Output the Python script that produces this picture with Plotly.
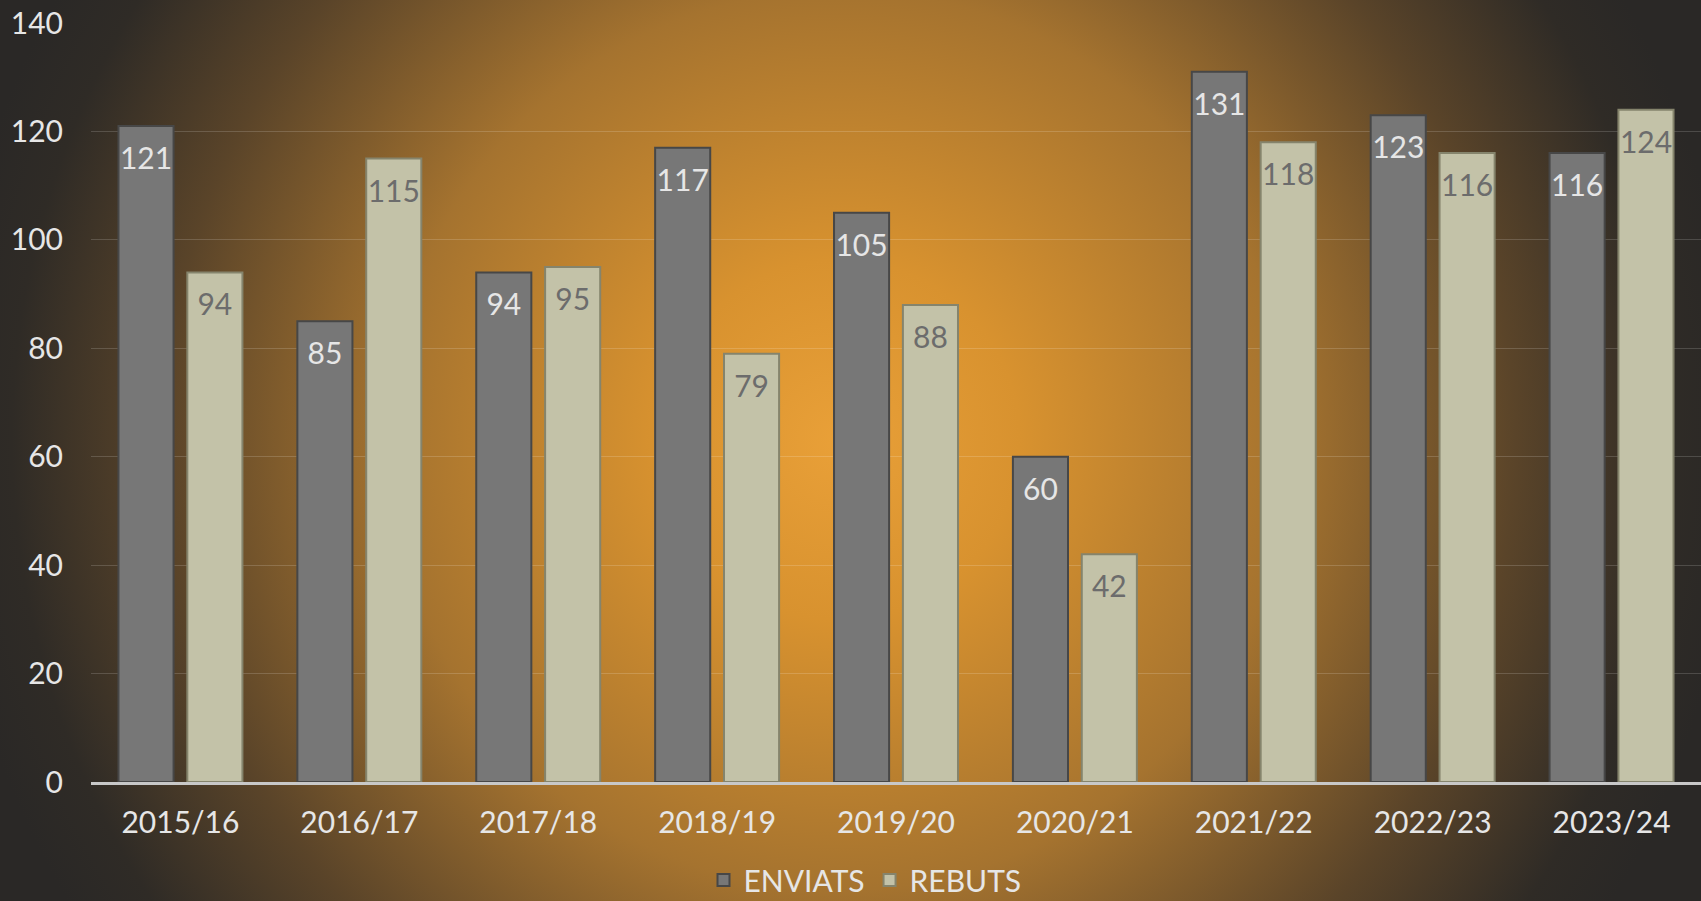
import base64
import plotly.graph_objects as go

categories = ["2015/16", "2016/17", "2017/18", "2018/19", "2019/20",
              "2020/21", "2021/22", "2022/23", "2023/24"]
enviats = [121, 85, 94, 117, 105, 60, 131, 123, 116]
rebuts = [94, 115, 95, 79, 88, 42, 118, 116, 124]
y_ticks = [0, 20, 40, 60, 80, 100, 120, 140]

W, H = 1701, 901
ML, MR, MT, MB = 91, 0, 23, 119
PW, PH = W - ML - MR, H - MT - MB

svg = f'''<svg xmlns="http://www.w3.org/2000/svg" width="{W}" height="{H}" viewBox="0 0 {W} {H}">
<defs><radialGradient id="g" gradientUnits="userSpaceOnUse" cx="840" cy="440" r="900">
<stop offset="0" stop-color="#e9a038"/>
<stop offset="0.2" stop-color="#d8922f"/>
<stop offset="0.5" stop-color="#a5732f"/>
<stop offset="0.75" stop-color="#5a4429"/>
<stop offset="0.92" stop-color="#2f2b26"/>
<stop offset="1" stop-color="#2a2826"/>
</radialGradient></defs>
<rect width="{W}" height="{H}" fill="url(#g)"/></svg>'''
src = "data:image/svg+xml;base64," + base64.b64encode(svg.encode()).decode()

FONT = "Lato"
FS = 30
LABEL_TPL = "<span style='font-size:1px'>\u00a0</span><br>%{y}"

fig = go.Figure()
fig.add_trace(go.Bar(
    name="ENVIATS", x=categories, y=enviats, texttemplate=LABEL_TPL,
    textposition="inside", insidetextanchor="end", constraintext="none",
    textangle=0, hoverinfo="x+y",
    textfont=dict(family=FONT, size=FS, color="#e6e6e6"),
    marker=dict(color="#777777", line=dict(color="#474747", width=2)),
))
fig.add_trace(go.Bar(
    name="REBUTS", x=categories, y=rebuts, texttemplate=LABEL_TPL,
    textposition="inside", insidetextanchor="end", constraintext="none",
    textangle=0, hoverinfo="x+y",
    textfont=dict(family=FONT, size=FS, color="#6c6c6c"),
    marker=dict(color="#c3c2a8", line=dict(color="#85846c", width=2)),
))

fig.update_layout(
    width=W, height=H,
    margin=dict(l=ML, r=MR, t=MT, b=MB, pad=0, autoexpand=False),
    paper_bgcolor="#2a2826", plot_bgcolor="rgba(0,0,0,0)",
    barmode="group", bargap=0.23, bargroupgap=0.2,
    font=dict(family=FONT, size=FS, color="#e6e6e6"),
    showlegend=True,
    legend=dict(orientation="h", xref="container", x=865 / W, xanchor="center",
                yref="container", y=1 - 880 / H, yanchor="middle",
                font=dict(family=FONT, size=FS, color="#e6e6e6"),
                bgcolor="rgba(0,0,0,0)", itemwidth=30),
    images=[dict(source=src, xref="paper", yref="paper",
                 x=-ML / PW, y=1 + MT / PH, sizex=W / PW, sizey=H / PH,
                 xanchor="left", yanchor="top", sizing="stretch", layer="below")],
    xaxis=dict(showgrid=False, showline=True, linecolor="#c8c8c8", linewidth=3,
               ticks="", ticklabelstandoff=12,
               tickfont=dict(family=FONT, size=FS, color="#e6e6e6")),
    yaxis=dict(range=[0, 140], tickvals=y_ticks, showgrid=True,
               gridcolor="rgba(255,255,255,0.16)", gridwidth=1,
               zeroline=False, showline=False, ticks="", ticklabelstandoff=27,
               tickfont=dict(family=FONT, size=FS, color="#e6e6e6")),
)

fig.write_html(
    "out.html",
    config={"displayModeBar": False},
    post_script="document.body.style.margin='0';document.body.style.overflow='hidden';",
)
